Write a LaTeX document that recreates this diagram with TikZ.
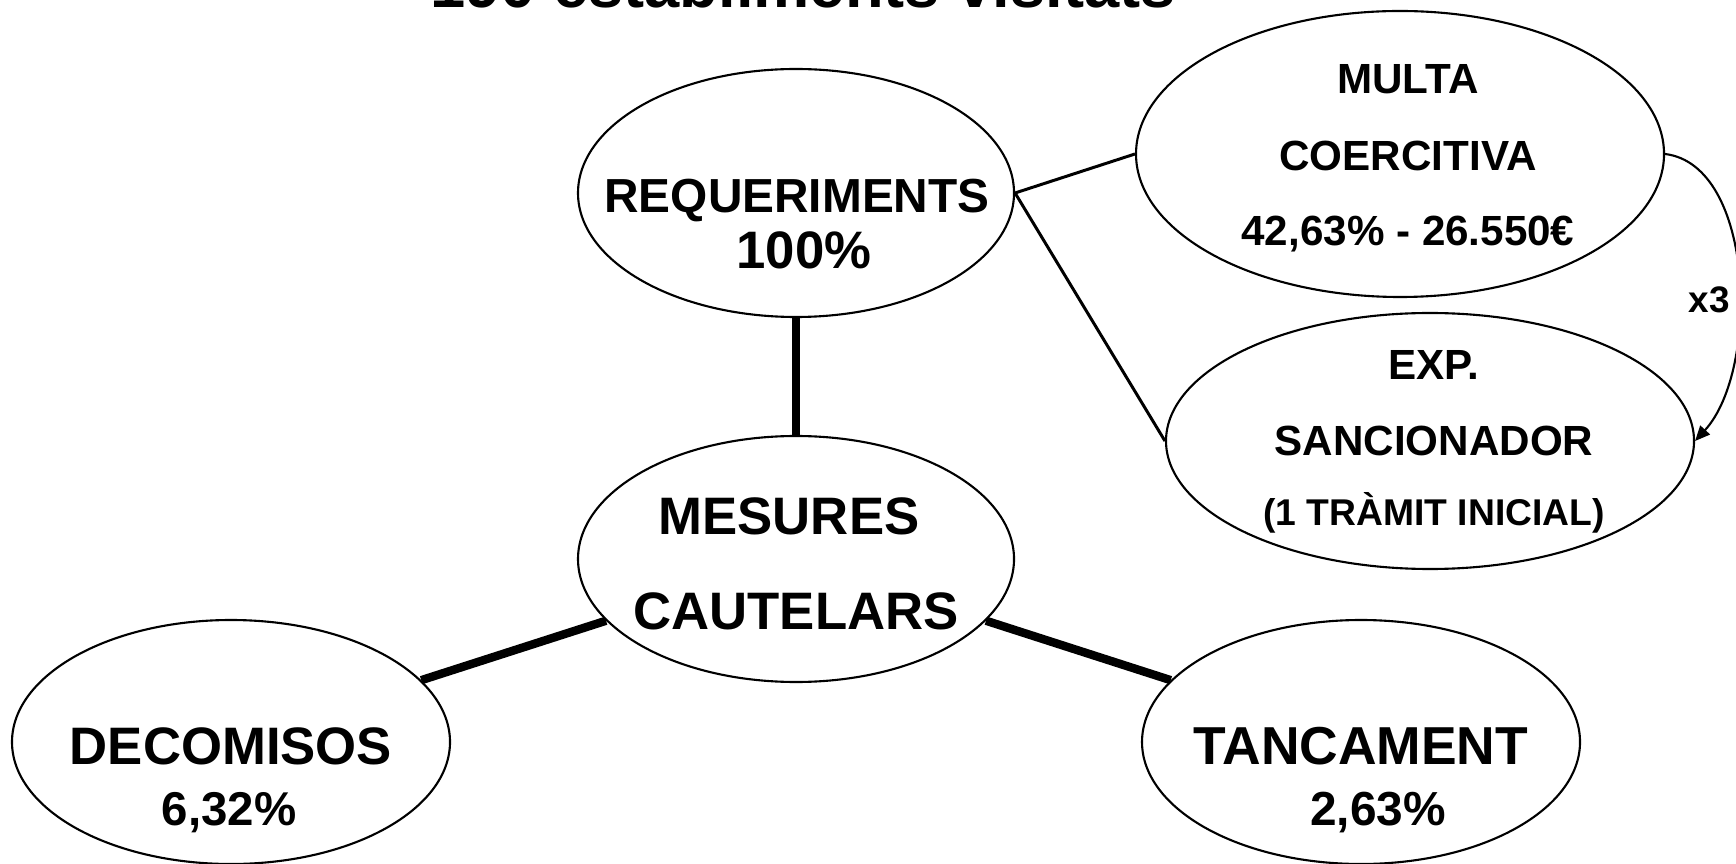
\documentclass[tikz,border=0pt]{standalone}
\usepackage{fontspec}
\setmainfont{Liberation Sans}
\usetikzlibrary{shapes.geometric,arrows.meta}

\begin{document}
\begin{tikzpicture}[
    bubble/.style={ellipse, draw, line width=0.6pt, inner sep=0pt},
    txt/.style={anchor=base, inner sep=0pt, font=\bfseries\fontsize{#1}{#1}\selectfont},
    txt/.default=15,
    thin/.style={line width=0.85pt},
    thick/.style={line width=2.4pt}
]
\useasboundingbox[fill=white] (0,0) rectangle (17.36,-8.64);

% title, cut by the top edge
\node[txt=18] (title) at (8.03,-0.08) {190 establiments visitats};

% ellipses
\node[bubble, minimum width=4.36cm, minimum height=2.48cm] (req) at (7.96,-1.93) {};
\node[bubble, minimum width=4.36cm, minimum height=2.46cm] (mes) at (7.96,-5.59) {};
\node[bubble, minimum width=4.38cm, minimum height=2.44cm] (dec) at (2.31,-7.42) {};
\node[bubble, minimum width=4.38cm, minimum height=2.44cm] (tan) at (13.61,-7.42) {};
\node[bubble, minimum width=5.28cm, minimum height=2.86cm] (mul) at (14.00,-1.54) {};
\node[bubble, minimum width=5.28cm, minimum height=2.56cm] (exp) at (14.30,-4.41) {};

% texts
\node[txt=13.6] (req-a) at (7.97,-2.126) {REQUERIMENTS};
\node[txt] (req-b) at (8.04,-2.69) {100\%};
\node[txt] (mes-a) at (7.89,-5.34) {MESURES};
\node[txt] (mes-b) at (7.96,-6.29) {CAUTELARS};
\node[txt] (dec-a) at (2.31,-7.64) {DECOMISOS};
\node[txt=13.5] (dec-b) at (2.29,-8.25) {6,32\%};
\node[txt=15.2] (tan-a) at (13.61,-7.64) {TANCAMENT};
\node[txt=13.6] (tan-b) at (13.78,-8.25) {2,63\%};
\node[txt=12] (mul-a) at (14.08,-0.94) {MULTA};
\node[txt=12] (mul-b) at (14.08,-1.705) {COERCITIVA};
\node[txt=12] (mul-c) at (14.08,-2.46) {42,63\% - 26.550€};
\node[txt=12] (exp-a) at (14.34,-3.80) {EXP.};
\node[txt=12] (exp-b) at (14.34,-4.56) {SANCIONADOR};
\node[txt=10.6] (exp-c) at (14.34,-5.25) {(1 TRÀMIT INICIAL)};
\node[txt=10.5] (times) at (17.09,-3.13) {x3};

% connectors
\draw[thick] (req.south) -- (mes.north);
\draw[thick] (mes.198) -- (dec.18);
\draw[thick] (mes.342) -- (tan.162);
\draw[thin] (req.east) -- (mul.west);
\draw[thin] (req.east) -- (exp.west);
\draw[line width=0.6pt, -{Triangle[length=1.5mm,width=1.3mm]}]
    (mul.east) .. controls (17.55,-1.65) and (17.6,-3.7) .. (exp.east);
\end{tikzpicture}
\end{document}
